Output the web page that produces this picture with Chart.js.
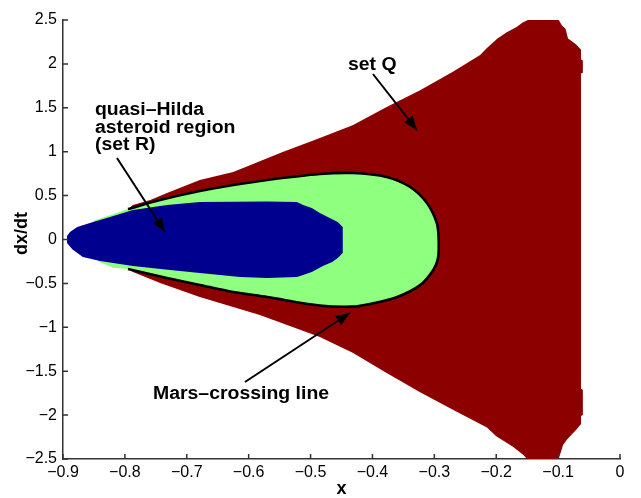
<!DOCTYPE html>
<html><head><meta charset="utf-8">
<script src="https://cdn.jsdelivr.net/npm/chart.js@4.4.0/dist/chart.umd.min.js"></script>
<style>html,body{margin:0;padding:0;background:#fff;overflow:hidden}canvas{display:block}</style>
</head><body>
<canvas id="c" width="641" height="498"></canvas>
<script>
// ---- axes ----
const xTicks = [-0.9,-0.8,-0.7,-0.6,-0.5,-0.4,-0.3,-0.2,-0.1,0];
const xTickLabels = ['−0.9','−0.8','−0.7','−0.6','−0.5','−0.4','−0.3','−0.2','−0.1','0'];
const yTicks = [-2.5,-2,-1.5,-1,-0.5,0,0.5,1,1.5,2,2.5];
const yTickLabels = ['−2.5','−2','−1.5','−1','−0.5','0','0.5','1','1.5','2','2.5'];

// ---- set Q (dark red region outline) ----
const setQX = [-0.795,-0.787,-0.759,-0.732,-0.679,-0.625,-0.545,-0.485,-0.432,-0.377,-0.323,-0.270,-0.226,-0.215,-0.198,-0.183,-0.167,-0.158,-0.149,-0.099,-0.094,-0.088,-0.084,-0.076,-0.070,-0.063,-0.063,-0.060,-0.060,-0.063,-0.063,-0.060,-0.060,-0.063,-0.063,-0.070,-0.078,-0.086,-0.092,-0.099,-0.150,-0.157,-0.173,-0.200,-0.215,-0.270,-0.323,-0.377,-0.432,-0.485,-0.582,-0.679,-0.743,-0.787,-0.795,-0.600];
const setQY = [0.345,0.393,0.450,0.530,0.678,0.769,0.997,1.156,1.300,1.510,1.700,1.910,2.100,2.180,2.290,2.360,2.420,2.470,2.500,2.500,2.440,2.400,2.290,2.250,2.215,2.160,2.050,2.040,1.900,1.890,-1.700,-1.710,-2.000,-2.010,-2.100,-2.160,-2.220,-2.280,-2.340,-2.500,-2.500,-2.450,-2.360,-2.240,-2.140,-1.940,-1.740,-1.520,-1.290,-1.110,-0.860,-0.655,-0.495,-0.370,-0.336,0];

// ---- green region (inside Mars-crossing line) ----
const greenX = [-0.850,-0.824,-0.795,-0.743,-0.679,-0.625,-0.570,-0.485,-0.432,-0.377,-0.339,-0.312,-0.296,-0.293,-0.294,-0.302,-0.323,-0.360,-0.404,-0.432,-0.485,-0.570,-0.625,-0.679,-0.732,-0.795,-0.819,-0.843,-0.855];
const greenY = [0.215,0.275,0.347,0.450,0.552,0.620,0.678,0.746,0.757,0.712,0.598,0.416,0.188,0.000,-0.210,-0.350,-0.520,-0.655,-0.735,-0.765,-0.752,-0.655,-0.598,-0.518,-0.438,-0.336,-0.322,-0.250,0.000];

// ---- set R (blue quasi-Hilda region) ----
const setRX = [-0.8935,-0.8935,-0.8887,-0.877,-0.8515,-0.824,-0.787,-0.732,-0.679,-0.570,-0.522,-0.512,-0.498,-0.485,-0.469,-0.456,-0.448,-0.448,-0.456,-0.465,-0.480,-0.498,-0.512,-0.522,-0.570,-0.614,-0.679,-0.727,-0.787,-0.840,-0.868,-0.885];
const setRY = [0.040,-0.040,0.085,0.142,0.200,0.256,0.336,0.393,0.427,0.432,0.427,0.393,0.359,0.302,0.245,0.200,0.142,-0.154,-0.211,-0.256,-0.302,-0.370,-0.404,-0.427,-0.439,-0.427,-0.382,-0.347,-0.302,-0.245,-0.199,-0.110];

// ---- Mars-crossing line (black curve) ----
const marsX = [-0.795,-0.743,-0.679,-0.625,-0.570,-0.485,-0.432,-0.377,-0.339,-0.312,-0.296,-0.293,-0.294,-0.302,-0.323,-0.360,-0.404,-0.432,-0.485,-0.570,-0.625,-0.679,-0.732,-0.795];
const marsY = [0.347,0.450,0.552,0.620,0.678,0.746,0.757,0.712,0.598,0.416,0.188,0.000,-0.210,-0.350,-0.520,-0.655,-0.735,-0.765,-0.752,-0.655,-0.598,-0.518,-0.438,-0.336];

// ---- annotations ----
const arrowFromX = [-0.8128,-0.3992,-0.606];
const arrowFromY = [0.928,1.885,-1.623];
const arrowToX = [-0.7352,-0.328,-0.4364];
const arrowToY = [0.085,1.247,-0.837];
const noteLines = ['quasi–Hilda','asteroid region','(set R)','set Q','Mars–crossing line'];
const noteX = [-0.8483,-0.8483,-0.8483,-0.4396,-0.7546];
const noteY = [1.418,1.213,1.020,1.930,-1.817];

const pts = (xs, ys) => xs.map((v, i) => ({x: v, y: ys[i]}));
const FONT = '"Liberation Sans", Arial, Helvetica, sans-serif';

// reorder blue tip so the outline is continuous
setRX.splice(1, 1); const tipLow = setRY.splice(1, 1);
setRX.push(-0.8935); setRY.push(tipLow[0]);

const datasets = [
  {data: pts(setQX, setQY), backgroundColor: '#8c0000', borderColor: 'rgba(0,0,0,0)', fill: 'shape', order: 10},
  {data: pts(greenX, greenY), backgroundColor: '#8fff80', borderColor: 'rgba(0,0,0,0)', fill: 'shape', order: 9},
  {data: pts(setRX, setRY), backgroundColor: '#00008f', borderColor: 'rgba(0,0,0,0)', fill: 'shape', order: 8},
  {data: pts(marsX, marsY), borderColor: '#000', borderWidth: 2.6, tension: 0.3, fill: false, order: 7}
];
arrowFromX.forEach((v, i) => datasets.push({
  data: [{x: v, y: arrowFromY[i]}, {x: arrowToX[i], y: arrowToY[i]}],
  borderColor: '#000', borderWidth: 2, fill: false, order: 1
}));
datasets.forEach(d => { d.showLine = true; d.pointRadius = 0; d.pointHoverRadius = 0; });

const overlay = {
  id: 'overlay',
  afterDatasetsDraw(chart) {
    const {ctx, scales: {x, y}} = chart;
    ctx.save();
    ctx.fillStyle = '#000';
    arrowToX.forEach((v, i) => {
      const tx = x.getPixelForValue(v), ty = y.getPixelForValue(arrowToY[i]);
      const fx = x.getPixelForValue(arrowFromX[i]), fy = y.getPixelForValue(arrowFromY[i]);
      const ang = Math.atan2(ty - fy, tx - fx);
      const L = 14, W = 5.5;
      ctx.beginPath();
      ctx.moveTo(tx, ty);
      ctx.lineTo(tx - L * Math.cos(ang) + W * Math.sin(ang), ty - L * Math.sin(ang) - W * Math.cos(ang));
      ctx.lineTo(tx - L * Math.cos(ang) - W * Math.sin(ang), ty - L * Math.sin(ang) + W * Math.cos(ang));
      ctx.closePath();
      ctx.fill();
    });
    ctx.font = 'bold 18px ' + FONT;
    ctx.textAlign = 'left';
    ctx.textBaseline = 'alphabetic';
    noteLines.forEach((t, i) => {
      const px = x.getPixelForValue(noteX[i]), py = y.getPixelForValue(noteY[i]);
      ctx.save();
      ctx.translate(px, py);
      ctx.scale(1.08, 1);
      ctx.fillText(t, 0, 0);
      ctx.restore();
    });
    ctx.restore();
  },
  afterDraw(chart) {
    const {ctx, chartArea: a, scales: {x, y}} = chart;
    ctx.save();
    ctx.strokeStyle = '#333';
    ctx.lineWidth = 1.5;
    ctx.beginPath();
    x.ticks.forEach(t => { const p = x.getPixelForValue(t.value); ctx.moveTo(p, a.bottom); ctx.lineTo(p, a.bottom - 5); });
    y.ticks.forEach(t => { const p = y.getPixelForValue(t.value); ctx.moveTo(a.left, p); ctx.lineTo(a.left + 5, p); });
    ctx.stroke();
    ctx.fillStyle = '#000';
    ctx.font = 'bold 18px ' + FONT;
    ctx.textAlign = 'center';
    ctx.textBaseline = 'alphabetic';
    ctx.fillText('x', (a.left + a.right) / 2, 494);
    ctx.translate(27, (a.top + a.bottom) / 2 - 6);
    ctx.rotate(-Math.PI / 2);
    ctx.fillText('dx/dt', 0, 0);
    ctx.restore();
  }
};

new Chart(document.getElementById('c'), {
  type: 'scatter',
  data: {datasets},
  options: {
    responsive: false,
    animation: false,
    events: [],
    layout: {padding: {top: 20, right: 21, left: 0, bottom: 0}},
    plugins: {legend: {display: false}, tooltip: {enabled: false}},
    scales: {
      x: {
        type: 'linear', min: -0.9, max: 0,
        afterBuildTicks: s => { s.ticks = xTicks.map(v => ({value: v})); },
        afterFit: s => { s.height = 39; },
        grid: {display: true, drawOnChartArea: false, drawTicks: false},
        border: {display: true, color: '#333', width: 1.5},
        ticks: {
          padding: 4, color: '#000', font: {family: FONT, size: 16}, maxRotation: 0, autoSkip: false,
          callback: v => xTickLabels[Math.round((v + 0.9) / 0.1)]
        }
      },
      y: {
        type: 'linear', min: -2.5, max: 2.5,
        afterBuildTicks: s => { s.ticks = yTicks.map(v => ({value: v})); },
        afterFit: s => { s.width = 63; },
        grid: {display: true, drawOnChartArea: false, drawTicks: false},
        border: {display: true, color: '#333', width: 1.5},
        ticks: {
          padding: 6, color: '#000', font: {family: FONT, size: 16}, autoSkip: false,
          callback: v => yTickLabels[Math.round((v + 2.5) / 0.5)]
        }
      }
    }
  },
  plugins: [overlay]
});
</script>
</body></html>
